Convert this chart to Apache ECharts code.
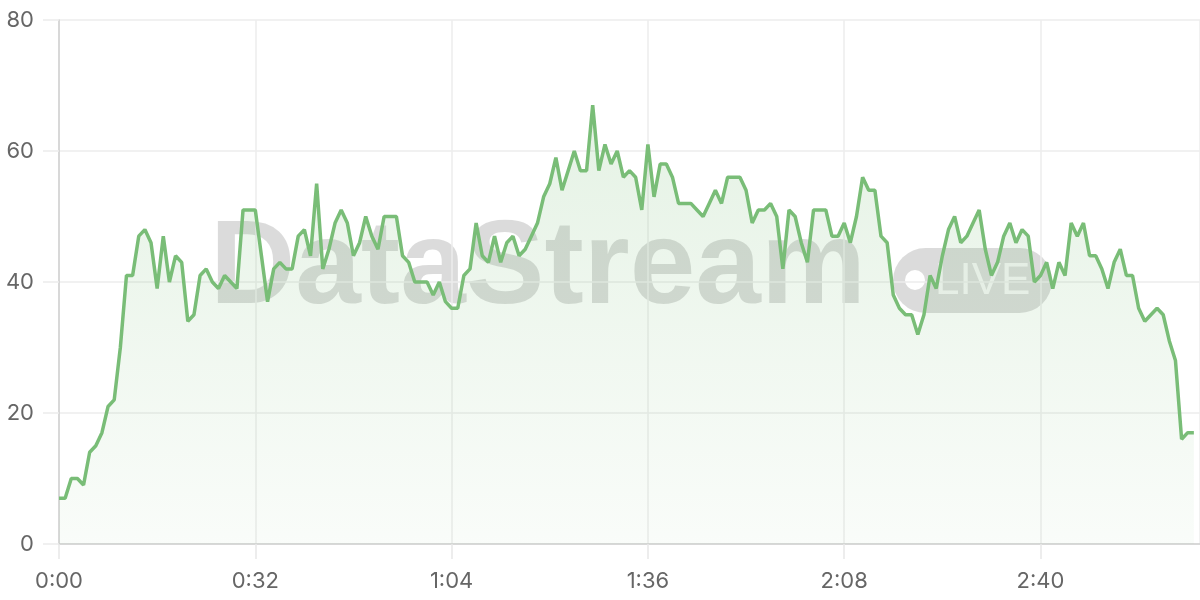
<!DOCTYPE html>
<html>
<head>
<meta charset="utf-8">
<script src="https://cdn.jsdelivr.net/npm/echarts@6/dist/echarts.min.js"></script>
<style>
  html, body { margin: 0; padding: 0; background: #fff; }
  #chart { width: 1200px; height: 600px; }
</style>
</head>
<body>
<div id="chart"></div>
<script>
// one reading per second, 0:00 .. 3:05
const values = [
  7, 7, 10, 10, 9, 14, 15, 17, 21, 22,
  30, 41, 41, 47, 48, 46, 39, 47, 40, 44,
  43, 34, 35, 41, 42, 40, 39, 41, 40, 39,
  51, 51, 51, 44, 37, 42, 43, 42, 42, 47,
  48, 44, 55, 42, 45, 49, 51, 49, 44, 46,
  50, 47, 45, 50, 50, 50, 44, 43, 40, 40,
  40, 38, 40, 37, 36, 36, 41, 42, 49, 44,
  43, 47, 43, 46, 47, 44, 45, 47, 49, 53,
  55, 59, 54, 57, 60, 57, 57, 67, 57, 61,
  58, 60, 56, 57, 56, 51, 61, 53, 58, 58,
  56, 52, 52, 52, 51, 50, 52, 54, 52, 56,
  56, 56, 54, 49, 51, 51, 52, 50, 42, 51,
  50, 46, 43, 51, 51, 51, 47, 47, 49, 46,
  50, 56, 54, 54, 47, 46, 38, 36, 35, 35,
  32, 35, 41, 39, 44, 48, 50, 46, 47, 49,
  51, 45, 41, 43, 47, 49, 46, 48, 47, 40,
  41, 43, 39, 43, 41, 49, 47, 49, 44, 44,
  42, 39, 43, 45, 41, 41, 36, 34, 35, 36,
  35, 31, 28, 16, 17, 17
]
const xTicks = [0, 32, 64, 96, 128, 160]   // 0:00 0:32 1:04 1:36 2:08 2:40
const yTicks = [0, 20, 40, 60, 80]

const lineColor = '#79bd77'
const fmtTime = s => Math.floor(s / 60) + ':' + String(s % 60).padStart(2, '0')

const chart = echarts.init(document.getElementById('chart'))

chart.setOption({
  animation: false,
  backgroundColor: '#fff',
  grid: { left: 59, right: 0, top: 20, bottom: 56 },
  xAxis: {
    type: 'value',
    min: xTicks[0],
    max: 186,
    interval: xTicks[1] - xTicks[0],
    axisLine: { show: true, lineStyle: { color: '#cfcfcf', width: 1.5 } },
    axisTick: { show: true, length: 15, lineStyle: { color: '#e8e8e8', width: 1.5 } },
    splitLine: { show: true, lineStyle: { color: '#ececec', width: 1.5 } },
    axisLabel: {
      margin: 26,
      color: '#666',
      fontFamily: 'Inter',
      fontSize: 22,
      showMaxLabel: false,
      formatter: v => fmtTime(v)
    }
  },
  yAxis: {
    type: 'value',
    min: yTicks[0],
    max: yTicks[yTicks.length - 1],
    interval: yTicks[1] - yTicks[0],
    axisLine: { show: true, lineStyle: { color: '#cfcfcf', width: 1.5 } },
    axisTick: { show: true, length: 16, lineStyle: { color: '#ececec', width: 1.5 } },
    splitLine: { show: true, lineStyle: { color: '#ececec', width: 1.5 } },
    axisLabel: { margin: 25, color: '#666', fontFamily: 'Inter', fontSize: 22 }
  },
  // watermark
  graphic: [
    {
      type: 'text',
      z: 0,
      silent: true,
      style: {
        text: 'DataStream',
        x: 210,
        y: 270,
        fill: 'rgba(0,0,0,0.14)',
        font: 'bold 118px "Liberation Sans", Arial, sans-serif',
        textAlign: 'left',
        textVerticalAlign: 'middle'
      }
    },
    {
      type: 'rect',
      z: 0,
      silent: true,
      shape: { x: 893, y: 248, width: 159, height: 65, r: 32.5 },
      style: { fill: 'rgba(0,0,0,0.14)' }
    },
    {
      type: 'circle',
      z: 0,
      silent: true,
      shape: { cx: 915, cy: 280, r: 10 },
      style: { fill: '#fff' }
    },
    {
      type: 'text',
      z: 0,
      silent: true,
      style: {
        text: 'LIVE',
        x: 935,
        y: 282,
        fill: 'rgba(255,255,255,0.75)',
        font: 'normal 44px "Liberation Sans", Arial, sans-serif',
        textAlign: 'left',
        textVerticalAlign: 'middle'
      }
    }
  ],
  series: [
    {
      type: 'line',
      data: values.map((v, i) => [i, v]),
      showSymbol: false,
      smooth: false,
      lineStyle: { color: lineColor, width: 3.5 },
      areaStyle: {
        color: new echarts.graphic.LinearGradient(0, 0, 0, 1, [
          { offset: 0, color: 'rgba(121,189,119,0.28)' },
          { offset: 1, color: 'rgba(121,189,119,0.06)' }
        ])
      }
    }
  ]
})
</script>
</body>
</html>
